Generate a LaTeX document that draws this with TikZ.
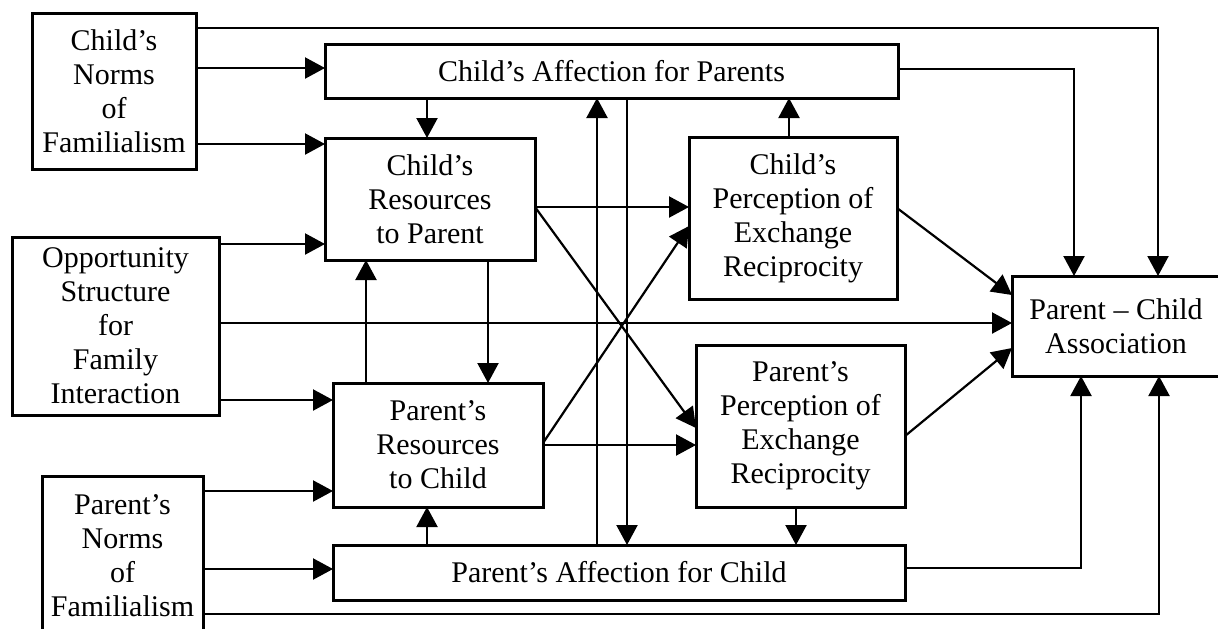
\documentclass[tikz,border=0pt]{standalone}
\usepackage{fontspec}
\setmainfont{Liberation Serif}
\usetikzlibrary{arrows.meta,calc}
\tikzset{
  blk/.style={draw, line width=1.5pt, align=center, inner sep=0pt, outer sep=0pt,
    font=\fontsize{15}{17}\selectfont},
  arr/.style={line width=1.1pt, -{Triangle[length=10pt,width=10.5pt]}},
  ln/.style={line width=1.1pt}
}
\begin{document}
\begin{tikzpicture}[x=0.5pt,y=-0.5pt]
\useasboundingbox (0,0) rectangle (1218,628);
\clip (0,0) rectangle (1218,628);
% nodes
\node[blk, minimum width=82pt, minimum height=78pt] (CN) at (114,91) {Child’s\\Norms\\of\\Familialism};
\node[blk, minimum width=286.5pt, minimum height=27pt] (CA) at (611.5,71) {Child’s Affection for Parents};
\node[blk, minimum width=105pt, minimum height=61pt] (CR) at (430,199) {Child’s\\Resources\\to Parent};
\node[blk, minimum width=104pt, minimum height=81pt] (CP) at (793,218) {Child’s\\Perception of\\Exchange\\Reciprocity};
\node[blk, minimum width=103.5pt, minimum height=89pt] (OS) at (115.5,326) {Opportunity\\Structure\\for\\Family\\Interaction};
\node[blk, minimum width=104pt, minimum height=50pt] (PC) at (1116,326) {Parent – Child\\Association};
\node[blk, minimum width=105pt, minimum height=62pt] (PR) at (438,445) {Parent’s\\Resources\\to Child};
\node[blk, minimum width=104.5pt, minimum height=81pt] (PP) at (800.5,426) {Parent’s\\Perception of\\Exchange\\Reciprocity};
\node[blk, minimum width=80.5pt, minimum height=80pt] (PN) at (122.5,556) {Parent’s\\Norms\\of\\Familialism};
\node[blk, minimum width=286pt, minimum height=27.5pt] (PA) at (619,572.5) {Parent’s Affection for Child};
% connectors
\draw[arr] ($(CN.east)+(0,-63)$) -| ($(PC.north)+(42,0)$);
\draw[arr] ($(CN.east)+(0,-23)$) -- ($(CA.west)+(0,-3)$);
\draw[arr] ($(CN.east)+(0,53)$) -- ($(CR.west)+(0,-55)$);
\draw[arr] ($(CA.south)+(-184.5,0)$) -- ($(CR.north)+(-3,0)$);
\draw[arr] ($(PA.north)+(-22,0)$) -- ($(CA.south)+(-14.5,0)$);
\draw[arr] ($(CA.south)+(15.5,0)$) -- ($(PA.north)+(8,0)$);
\draw[arr] ($(CP.north)+(-4,0)$) -- ($(CA.south)+(177.5,0)$);
\draw[arr] ($(CA.east)+(0,-2)$) -| ($(PC.north)+(-42,0)$);
\draw[arr] ($(CR.east)+(0,8)$) -- ($(CP.west)+(0,-11)$);
\draw[arr] ($(CR.east)+(0,8)$) -- ($(PP.west)+(0,2)$);
\draw[arr] ($(PR.east)+(0,-2)$) -- ($(CP.west)+(0,8)$);
\draw[arr] (PR.east) -- ($(PP.west)+(0,19)$);
\draw[arr] ($(CP.east)+(0,-10)$) -- ($(PC.west)+(0,-31)$);
\draw[arr] ($(PP.east)+(0,10)$) -- ($(PC.west)+(0,22)$);
\draw[arr] ($(OS.east)+(0,-82)$) -- ($(CR.west)+(0,45)$);
\draw[arr] ($(OS.east)+(0,-3)$) -- ($(PC.west)+(0,-3)$);
\draw[arr] ($(OS.east)+(0,74)$) -- ($(PR.west)+(0,-45)$);
\draw[arr] ($(PR.north)+(-72,0)$) -- ($(CR.south)+(-64,0)$);
\draw[arr] ($(CR.south)+(58,0)$) -- ($(PR.north)+(50,0)$);
\draw[arr] ($(PN.east)+(0,-65)$) -- ($(PR.west)+(0,46)$);
\draw[arr] ($(PN.east)+(0,13)$) -- ($(PA.west)+(0,-3.5)$);
\draw[arr] ($(PN.east)+(0,58)$) -| ($(PC.south)+(43,0)$);
\draw[arr] ($(PA.east)+(0,-4.5)$) -| ($(PC.south)+(-35,0)$);
\draw[arr] ($(PA.north)+(-192,0)$) -- ($(PR.south)+(-11,0)$);
\draw[arr] ($(PP.south)+(-4.5,0)$) -- ($(PA.north)+(177,0)$);
\end{tikzpicture}
\end{document}
